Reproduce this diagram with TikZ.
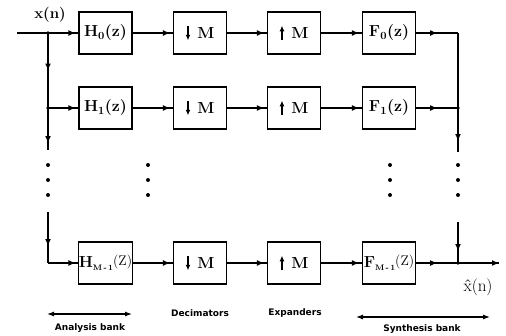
\documentclass[tikz,border=0pt]{standalone}
\usepackage{amsmath}
\usepackage{fontspec}
\newfontfamily\lblfont{DejaVu Sans}
\usetikzlibrary{arrows.meta,decorations.markings}
\newcommand{\subMa}{\raisebox{-3.5pt}{\fontsize{8}{8}\selectfont\bfseries M\,-\,1}}
\newcommand{\bigZ}{\raisebox{1.5pt}{\fontsize{14}{14}\selectfont\mdseries(Z)}}
\newcommand{\dnarr}{\tikz[baseline=0pt]\draw[line width=1.4pt,-{Latex[length=5.5pt,width=5pt]}] (0,13pt)--(0,-1.5pt);}
\newcommand{\uparr}{\tikz[baseline=0pt]\draw[line width=1.4pt,-{Latex[length=5.5pt,width=5pt]}] (0,-1.5pt)--(0,13pt);}
\begin{document}
\begin{tikzpicture}[x=1pt,y=-1pt,
  blk/.style={draw,line width=1.1pt,minimum width=53pt,minimum height=42pt,inner sep=0pt,
    font=\fontsize{16}{18}\selectfont\bfseries\boldmath},
  wire/.style={line width=1.1pt},
  arr/.style={wire,postaction={decorate},decoration={markings,mark=at position #1 with {\arrow{Latex[length=7pt,width=6pt]}}}},
  lbl/.style={font=\fontsize{9}{11}\lblfont\bfseries},
  lab/.style={font=\fontsize{17}{19}\selectfont}
]
\useasboundingbox (0,0) rectangle (506,335);
% boxes
\foreach \r/\y/\hh/\ff in {0/33/{H$_0$(z)}/{F$_0$(z)},1/108/{H$_1$(z)}/{F$_1$(z)},2/263/{H\subMa\bigZ}/{F\subMa\bigZ}}{
  \node[blk] (h\r) at (105.5,\y) {\hh};
  \node[blk] (d\r) at (200,\y) {\dnarr\hspace{7pt}M};
  \node[blk] (e\r) at (294,\y) {\uparr\hspace{7pt}M};
  \node[blk] (f\r) at (389,\y) {\ff};
  \draw[arr=-3pt] (h\r.east) -- (d\r.west);
  \draw[arr=-3pt] (d\r.east) -- (e\r.west);
  \draw[arr=-3pt] (e\r.east) -- (f\r.west);
}
% left side
\coordinate (in) at (17,33);
\coordinate (j0) at (48,33);
\coordinate (j1) at (48,108);
\coordinate (la) at (48,150);
\coordinate (lb) at (48,212);
\coordinate (j2) at (48,263);
\node[font=\fontsize{15}{18}\selectfont\bfseries] (xn) at (50,15) {x(n)};
\draw[wire] (in) -- (j0);
\draw[arr=-3pt] (j0) -- (h0.west);
\draw[arr=0.5] (j0) -- (j1);
\draw[arr=-3pt] (j1) -- (h1.west);
\draw[arr=-7pt] (j1) -- (la);
\draw[arr=-17pt] (lb) -- (j2);
\draw[arr=-3pt] (j2) -- (h2.west);
\fill (j0) circle (1.8pt);
\fill (j1) circle (1.8pt);
% right side
\coordinate (r0) at (458,33);
\coordinate (r1) at (458,108);
\coordinate (ra) at (458,152);
\coordinate (rb) at (458,222);
\coordinate (r2) at (458,263);
\coordinate (out) at (499,263);
\draw[arr=0.5] (f0.east) -- (r0);
\draw[arr=0.5] (f1.east) -- (r1);
\draw[arr=0.5] (f2.east) -- (r2);
\draw[wire] (r0) -- (r1);
\draw[arr=-11pt] (r1) -- (ra);
\draw[arr=-12pt] (rb) -- (r2);
\draw[arr=1] (r2) -- (out);
\fill (r1) circle (1.8pt);
\fill (r2) circle (1.8pt);
\node[lab] (xh) at (478,287) {\^{x}(n)};
% vertical dots
\foreach \x in {48,148,390,458}{
  \foreach \y in {165,180,195}{
    \fill (\x,\y) circle (2pt);
  }
}
% bottom labels
\coordinate (a1) at (47,314);
\coordinate (a2) at (132,314);
\draw[wire,{Latex[length=7pt,width=5pt]}-{Latex[length=7pt,width=5pt]}] (a1) -- (a2);
\node[lbl] (an) at (90,328) {Analysis bank};
\node[lbl] (de) at (200,313) {Decimators};
\node[lbl] (ex) at (295,313) {Expanders};
\coordinate (s1) at (356,317);
\coordinate (s2) at (490,317);
\draw[wire,{Latex[length=7pt,width=5pt]}-{Latex[length=7pt,width=5pt]}] (s1) -- (s2);
\node[lbl] (sy) at (422,329) {Synthesis bank};
\end{tikzpicture}
\end{document}
